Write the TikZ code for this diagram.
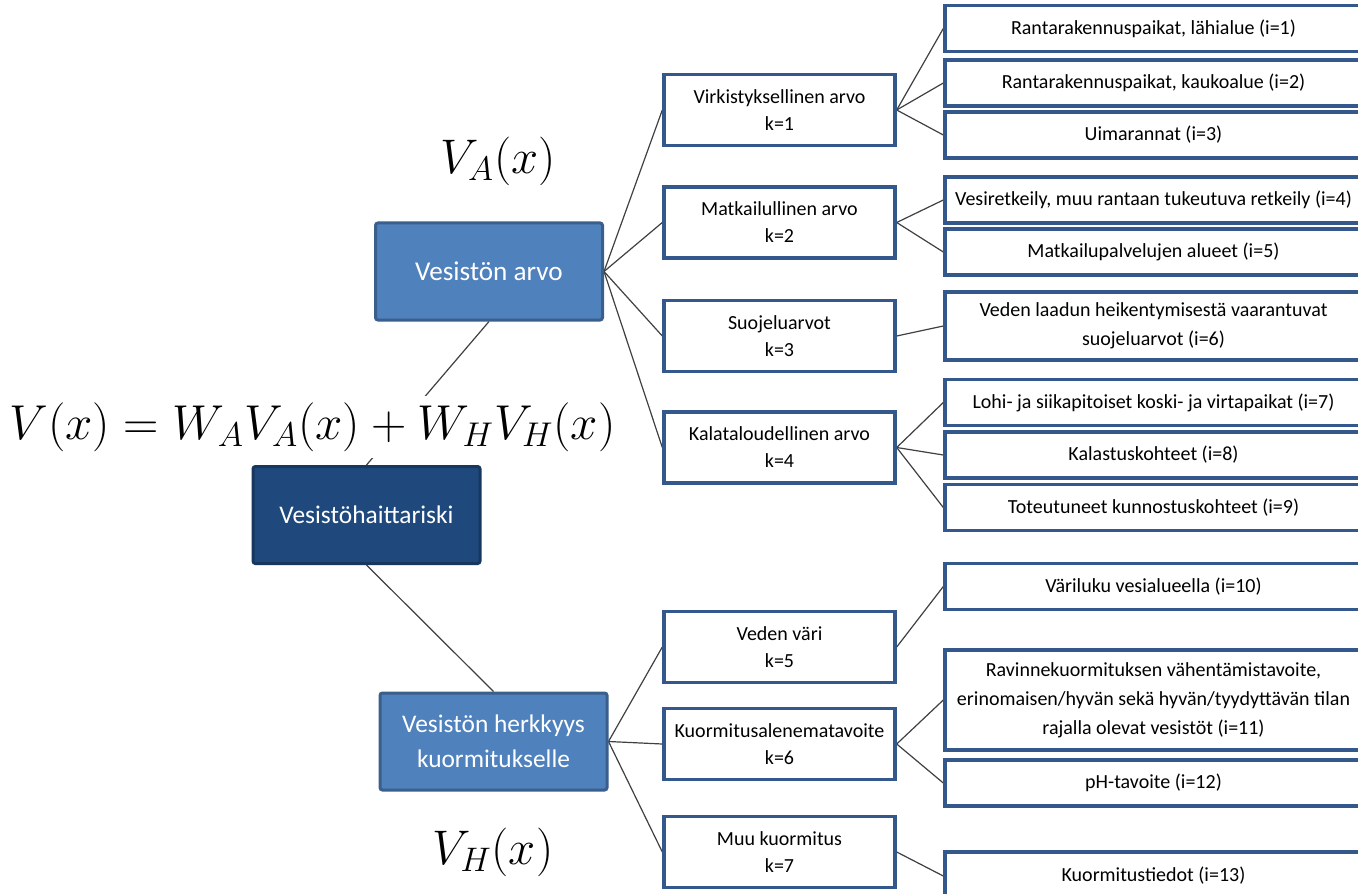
\RequirePackage{fix-cm}
\documentclass[tikz,border=0pt]{standalone}
\usepackage[no-math]{fontspec}
\setmainfont{Carlito}
\usetikzlibrary{backgrounds}
\definecolor{bmid}{HTML}{4F81BD}
\definecolor{bmidb}{HTML}{3A5F8B}
\definecolor{bdark}{HTML}{1F497D}
\definecolor{bdarkb}{HTML}{17375E}
\definecolor{bord}{HTML}{34588C}
\tikzset{
  bluebox/.style={draw=bmidb, line width=1.5pt, fill=bmid, text=white, minimum width=113.5pt,
    minimum height=48.5pt, inner sep=0pt, rounded corners=1.2pt, align=center,
    font=\fontsize{12.7}{17.5}\selectfont},
  lvtwo/.style={draw=bord, line width=1.7pt, fill=white, minimum width=115.5pt,
    minimum height=35.5pt, inner sep=0pt, align=center, font=\fontsize{10}{13.5}\selectfont},
  lvthree/.style={draw=bord, line width=1.7pt, fill=white, minimum width=208.5pt,
    minimum height=23pt, inner sep=0pt, align=center, font=\fontsize{10}{14.5}\selectfont},
  link/.style={draw=black!75, line width=0.6pt},
  mathlabel/.style={font=\fontsize{24.3}{25}\selectfont, inner sep=0pt}
}
\begin{document}
\begin{tikzpicture}[x=0.5pt,y=-0.5pt]
\useasboundingbox (0,0) rectangle (1358,893);
\clip (0,0) rectangle (1358,893);

% main blue boxes
\node[bluebox, font=\fontsize{13.6}{17.5}\selectfont] (A) at (489,271.5) {Vesistön arvo};
\node[bluebox, fill=bdark, draw=bdarkb] (R) at (366.5,515) {Vesistöhaittariski};
\node[bluebox] (H) at (493.5,741.5) {Vesistön herkkyys\\kuormitukselle};

% formula and labels
\node[fill=white, inner xsep=2pt, inner ysep=3.5pt, font=\fontsize{24.5}{25}\selectfont] (F) at (312.5,427) {$V(x)=W_AV_A(x)+W_HV_H(x)$};
\node[mathlabel] (VA) at (498,161) {$V_A(x)$};
\node[mathlabel] (VH) at (493,852) {$V_H(x)$};

% level 2
\node[lvtwo] (k1) at (779.5,110) {Virkistyksellinen arvo\\k=1};
\node[lvtwo] (k2) at (779.5,222.5) {Matkailullinen arvo\\k=2};
\node[lvtwo] (k3) at (779.5,336) {Suojeluarvot\\k=3};
\node[lvtwo] (k4) at (779.5,447.5) {Kalataloudellinen arvo\\k=4};
\node[lvtwo] (k5) at (779.5,647) {Veden väri\\k=5};
\node[lvtwo] (k6) at (779.5,744) {Kuormitusalenematavoite\\k=6};
\node[lvtwo] (k7) at (779.5,852) {Muu kuormitus\\k=7};

% level 3
\node[lvthree] (i1) at (1153.5,28.5) {Rantarakennuspaikat, lähialue (i=1)};
\node[lvthree] (i2) at (1153.5,83) {Rantarakennuspaikat, kaukoalue (i=2)};
\node[lvthree] (i3) at (1153.5,135) {Uimarannat (i=3)};
\node[lvthree] (i4) at (1153.5,200) {\makebox[0pt][c]{Vesiretkeily, muu rantaan tukeutuva retkeily (i=4)}};
\node[lvthree] (i5) at (1153.5,252) {Matkailupalvelujen alueet (i=5)};
\node[lvthree, minimum height=34pt] (i6) at (1153.5,326) {Veden laadun heikentymisestä vaarantuvat\\suojeluarvot (i=6)};
\node[lvthree] (i7) at (1153.5,402.5) {Lohi- ja siikapitoiset koski- ja virtapaikat (i=7)};
\node[lvthree] (i8) at (1153.5,455) {Kalastuskohteet (i=8)};
\node[lvthree] (i9) at (1153.5,507.5) {Toteutuneet kunnostuskohteet (i=9)};
\node[lvthree] (i10) at (1153.5,586.5) {Väriluku vesialueella (i=10)};
\node[lvthree, minimum height=50pt] (i11) at (1153.5,700) {Ravinnekuormituksen vähentämistavoite,\\\makebox[0pt][c]{erinomaisen/hyvän sekä hyvän/tyydyttävän tilan}\\rajalla olevat vesistöt (i=11)};
\node[lvthree] (i12) at (1153.5,783) {pH-tavoite (i=12)};
\node[lvthree, minimum height=24pt] (i13) at (1153.5,876) {Kuormitustiedot (i=13)};

\begin{scope}[on background layer]
\fill[white] (0,0) rectangle (1358,893);
\draw[link] (A.south) -- (R.north);
\draw[link] (R.south) -- (H.north);
\foreach \k in {k1,k2,k3,k4} \draw[link] (A.east) -- (\k.west);
\foreach \k in {k5,k6,k7} \draw[link] (H.east) -- (\k.west);
\foreach \i in {i1,i2,i3} \draw[link] (k1.east) -- (\i.west);
\foreach \i in {i4,i5} \draw[link] (k2.east) -- (\i.west);
\draw[link] (k3.east) -- (i6.west);
\foreach \i in {i7,i8,i9} \draw[link] (k4.east) -- (\i.west);
\draw[link] (k5.east) -- (i10.west);
\foreach \i in {i11,i12} \draw[link] (k6.east) -- (\i.west);
\draw[link] (k7.east) -- (i13.west);
\end{scope}
\end{tikzpicture}
\end{document}
